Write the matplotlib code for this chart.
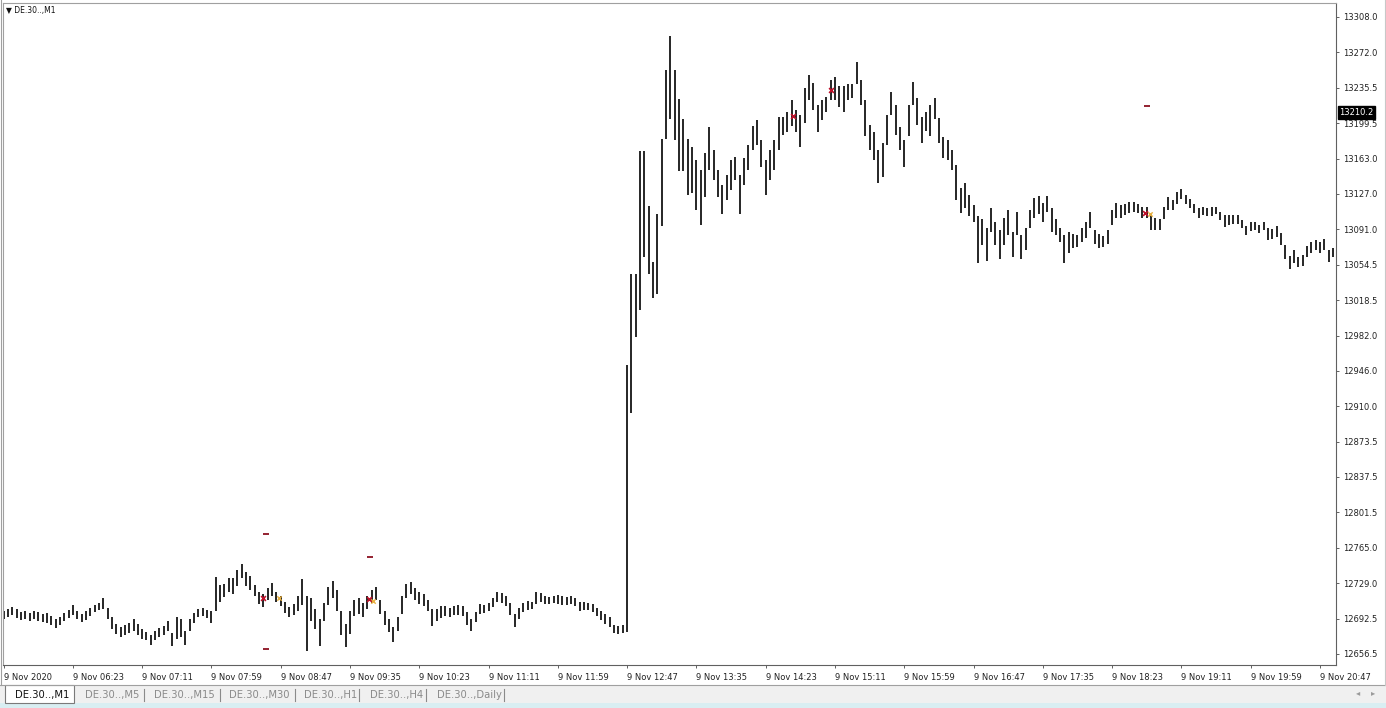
import matplotlib
matplotlib.use('Agg')
import matplotlib.pyplot as plt
from matplotlib.patches import Rectangle
import matplotlib.transforms as mtransforms

# ---------------- data ----------------
symbol_label = "DE.30..,M1"
tab_names = ["DE.30..,M1", "DE.30..,M5", "DE.30..,M15", "DE.30..,M30",
             "DE.30..,H1", "DE.30..,H4", "DE.30..,Daily"]
session_start = "05:35"
bar_minutes = 3

highs = [12700, 12702, 12705, 12702, 12699, 12700, 12698, 12700, 12699, 12697,
         12698, 12695, 12692, 12694, 12698, 12701, 12707, 12700, 12697, 12700,
         12704, 12707, 12709, 12714, 12704, 12694, 12687, 12684, 12686, 12688,
         12692, 12687, 12682, 12679, 12676, 12680, 12683, 12685, 12690, 12678,
         12694, 12692, 12680, 12692, 12698, 12702, 12703, 12701, 12700, 12735,
         12727, 12728, 12734, 12734, 12742, 12749, 12740, 12736, 12727, 12720,
         12718, 12724, 12729, 12720, 12716, 12710, 12705, 12708, 12716, 12733,
         12716, 12714, 12702, 12692, 12709, 12725, 12731, 12722, 12700, 12687,
         12700, 12712, 12714, 12709, 12716, 12722, 12725, 12712, 12700, 12692,
         12684, 12694, 12716, 12728, 12730, 12724, 12720, 12718, 12712, 12702,
         12702, 12706, 12706, 12704, 12706, 12707, 12706, 12699, 12692, 12699,
         12708, 12707, 12709, 12714, 12720, 12719, 12716, 12709, 12697, 12704,
         12709, 12711, 12710, 12720, 12719, 12716, 12715, 12716, 12717, 12716,
         12715, 12716, 12714, 12710, 12710, 12709, 12708, 12704, 12700, 12697,
         12694, 12686, 12685, 12686, 12952, 13045, 13045, 13171, 13171, 13115,
         13057, 13106, 13183, 13254, 13289, 13254, 13224, 13204, 13183, 13175,
         13162, 13152, 13169, 13195, 13172, 13152, 13136, 13146, 13162, 13165,
         13146, 13164, 13177, 13196, 13203, 13182, 13162, 13172, 13182, 13206,
         13206, 13211, 13223, 13213, 13208, 13235, 13249, 13240, 13218, 13223,
         13226, 13244, 13247, 13237, 13237, 13239, 13239, 13262, 13244, 13223,
         13198, 13190, 13172, 13179, 13208, 13231, 13218, 13195, 13182, 13218,
         13242, 13225, 13206, 13211, 13218, 13225, 13205, 13185, 13182, 13172,
         13157, 13133, 13138, 13126, 13116, 13104, 13101, 13092, 13113, 13098,
         13090, 13102, 13111, 13088, 13109, 13085, 13092, 13111, 13123, 13125,
         13118, 13125, 13113, 13101, 13092, 13085, 13088, 13086, 13085, 13092,
         13098, 13109, 13090, 13086, 13084, 13090, 13111, 13118, 13116, 13117,
         13119, 13119, 13117, 13114, 13114, 13106, 13102, 13101, 13114, 13124,
         13121, 13129, 13132, 13126, 13122, 13117, 13113, 13114, 13113, 13114,
         13114, 13109, 13105, 13105, 13105, 13105, 13100, 13094, 13098, 13098,
         13095, 13098, 13092, 13091, 13094, 13087, 13075, 13064, 13070, 13062,
         13065, 13074, 13078, 13080, 13078, 13081, 13070, 13072]

lows = [12692, 12694, 12696, 12693, 12691, 12692, 12690, 12692, 12690, 12689,
        12688, 12686, 12683, 12686, 12690, 12693, 12696, 12692, 12689, 12691,
        12695, 12699, 12701, 12702, 12692, 12682, 12677, 12674, 12676, 12678,
        12680, 12676, 12672, 12671, 12666, 12671, 12674, 12676, 12680, 12665,
        12672, 12674, 12666, 12680, 12688, 12694, 12695, 12693, 12688, 12700,
        12710, 12715, 12720, 12718, 12726, 12734, 12726, 12722, 12716, 12708,
        12705, 12712, 12716, 12710, 12706, 12698, 12694, 12696, 12700, 12707,
        12660, 12690, 12682, 12665, 12690, 12707, 12714, 12700, 12676, 12664,
        12677, 12695, 12697, 12694, 12702, 12709, 12712, 12697, 12686, 12679,
        12669, 12680, 12697, 12714, 12718, 12712, 12708, 12706, 12700, 12685,
        12690, 12693, 12695, 12694, 12696, 12696, 12695, 12686, 12680, 12689,
        12697, 12698, 12700, 12705, 12710, 12709, 12706, 12696, 12684, 12692,
        12699, 12701, 12702, 12708, 12710, 12708, 12708, 12709, 12708, 12707,
        12707, 12708, 12706, 12700, 12701, 12701, 12699, 12695, 12691, 12687,
        12684, 12678, 12677, 12678, 12679, 12903, 12981, 13008, 13062, 13045,
        13021, 13025, 13094, 13183, 13204, 13182, 13150, 13150, 13126, 13128,
        13111, 13095, 13124, 13152, 13141, 13124, 13106, 13121, 13131, 13141,
        13106, 13136, 13152, 13172, 13177, 13155, 13126, 13141, 13152, 13172,
        13187, 13190, 13197, 13190, 13175, 13200, 13223, 13213, 13190, 13203,
        13211, 13223, 13223, 13216, 13211, 13223, 13225, 13239, 13218, 13186,
        13172, 13162, 13138, 13144, 13177, 13208, 13187, 13172, 13155, 13186,
        13218, 13198, 13179, 13191, 13186, 13204, 13179, 13164, 13162, 13152,
        13121, 13108, 13113, 13104, 13098, 13056, 13075, 13058, 13088, 13075,
        13060, 13075, 13085, 13062, 13085, 13060, 13070, 13092, 13102, 13106,
        13098, 13109, 13088, 13085, 13078, 13056, 13067, 13072, 13073, 13078,
        13082, 13092, 13076, 13072, 13073, 13076, 13095, 13102, 13102, 13105,
        13107, 13109, 13107, 13102, 13102, 13090, 13090, 13090, 13101, 13111,
        13111, 13117, 13122, 13117, 13113, 13108, 13102, 13105, 13104, 13104,
        13106, 13100, 13093, 13095, 13096, 13096, 13092, 13085, 13089, 13090,
        13087, 13090, 13080, 13081, 13083, 13075, 13060, 13050, 13056, 13052,
        13053, 13062, 13067, 13070, 13067, 13070, 13057, 13062]

price_ticks = [13308.0, 13272.0, 13235.5, 13199.5, 13163.0, 13127.0, 13091.0,
               13054.5, 13018.5, 12982.0, 12946.0, 12910.0, 12873.5, 12837.5,
               12801.5, 12765.0, 12729.0, 12692.5, 12656.5]
time_tick_labels = ["9 Nov 2020", "9 Nov 06:23", "9 Nov 07:11", "9 Nov 07:59",
                    "9 Nov 08:47", "9 Nov 09:35", "9 Nov 10:23", "9 Nov 11:11",
                    "9 Nov 11:59", "9 Nov 12:47", "9 Nov 13:35", "9 Nov 14:23",
                    "9 Nov 15:11", "9 Nov 15:59", "9 Nov 16:47", "9 Nov 17:35",
                    "9 Nov 18:23", "9 Nov 19:11", "9 Nov 19:59", "9 Nov 20:47"]
time_tick_step = 48
current_price = 13210.2

entry_times = ["08:35", "09:48", "14:42", "15:08", "18:46"]
entry_prices = [12714, 12713, 13207, 13233, 13108]
exit_times = ["08:46", "09:51", "18:49"]
exit_prices = [12714, 12711, 13106]
level_times = ["08:37", "08:37", "09:49", "18:47"]
level_prices = [12779, 12662, 12756, 13217]

ymin, ymax = 12645.2, 13322.3


def minutes_since_start(hhmm):
    h, m = hhmm.split(":")
    h0, m0 = session_start.split(":")
    return int(h) * 60 + int(m) - (int(h0) * 60 + int(m0))


# ---------------- figure ----------------
W, H = 1386, 708
fig = plt.figure(figsize=(W / 100, H / 100), dpi=100)
fig.patch.set_facecolor('white')
plt.rcParams['font.family'] = ['DejaVu Sans']

# background / chrome layer in pixel coordinates
bg = fig.add_axes([0, 0, 1, 1], zorder=0)
bg.set_xlim(0, W)
bg.set_ylim(H, 0)
bg.axis('off')
bg.add_patch(Rectangle((0, 685), W, 23, facecolor='#f0f0f0', edgecolor='none'))
bg.add_patch(Rectangle((0, 703), W, 5, facecolor='#d9eef2', edgecolor='none'))
bg.plot([0, W], [685, 685], color='#a0a0a0', lw=0.8)
bg.plot([1, 1], [0, 685], color='#a0a0a0', lw=0.8)
bg.plot([W - 1, W - 1], [0, 685], color='#c8c8c8', lw=0.8)
# tabs
tab_x = [15, 85, 154, 229, 304, 370, 437]
sep_x = [144, 220, 295, 359, 426, 504]
bg.add_patch(Rectangle((5, 685), 69, 18, facecolor='white', edgecolor='#7a7a7a', lw=0.8))
for i, (name, x) in enumerate(zip(tab_names, tab_x)):
    bg.text(x, 695, name, fontsize=7.2, color='#111111' if i == 0 else '#8a8a8a',
            ha='left', va='center')
for x in sep_x:
    bg.plot([x, x], [689, 701], color='#8a8a8a', lw=0.8)
bg.text(1358, 693, "\u25c2", fontsize=6, color='#9a9a9a', ha='center', va='center')
bg.text(1373, 693, "\u25b8", fontsize=6, color='#9a9a9a', ha='center', va='center')

# main chart axes
left_px, right_px, top_px, bottom_px = 3, 1336, 3, 665
ax = fig.add_axes([left_px / W, 1 - bottom_px / H, (right_px - left_px) / W,
                   (bottom_px - top_px) / H], zorder=1)
ax.patch.set_alpha(0)

px_per_min = 1.4434
xmin = -0.6 / px_per_min
xmax = xmin + (right_px - left_px) / px_per_min
ax.set_xlim(xmin, xmax)
ax.set_ylim(ymin, ymax)

times = [i * bar_minutes for i in range(len(highs))]
ax.vlines(times, lows, highs, color='#262626', lw=1.4)

# trade markers
ax.scatter([minutes_since_start(t) for t in entry_times], entry_prices, marker='x',
           s=12, color='#c0102a', lw=1.2, zorder=3)
ax.scatter([minutes_since_start(t) for t in exit_times], exit_prices, marker='x',
           s=10, color='#e8b040', lw=1.0, zorder=3)
ax.scatter([minutes_since_start(t) for t in level_times], level_prices, marker='_',
           s=20, color='#8b1020', lw=1.3, zorder=3)

# axes styling
for side in ['left', 'top']:
    ax.spines[side].set_color('#a0a0a0')
    ax.spines[side].set_linewidth(0.8)
for side in ['right', 'bottom']:
    ax.spines[side].set_color('#606060')
    ax.spines[side].set_linewidth(0.8)

ax.yaxis.tick_right()
ax.set_yticks(price_ticks)
ax.set_yticklabels([f"{p:.1f}" for p in price_ticks])
ax.tick_params(axis='y', direction='out', length=2.5, width=0.7, color='#606060',
               labelsize=6, labelcolor='#222222', pad=2.5)

ax.set_xticks([k * time_tick_step for k in range(len(time_tick_labels))])
ax.set_xticklabels(time_tick_labels, ha='left')
ax.tick_params(axis='x', direction='out', length=2.5, width=0.7, color='#606060',
               labelsize=6, labelcolor='#222222', pad=3)

# current price tag
trans = mtransforms.blended_transform_factory(ax.transAxes, ax.transData)
ax.text(1.0025, current_price, f"{current_price:.1f}", transform=trans, fontsize=6,
        color='white', ha='left', va='center',
        bbox=dict(facecolor='black', edgecolor='black', pad=1.2))

# symbol label
ax.text(0.0022, 0.988, "\u25bc " + symbol_label, transform=ax.transAxes, fontsize=5.5,
        color='#111111', ha='left', va='center')

fig.savefig("out.png", dpi=100, facecolor='white')
